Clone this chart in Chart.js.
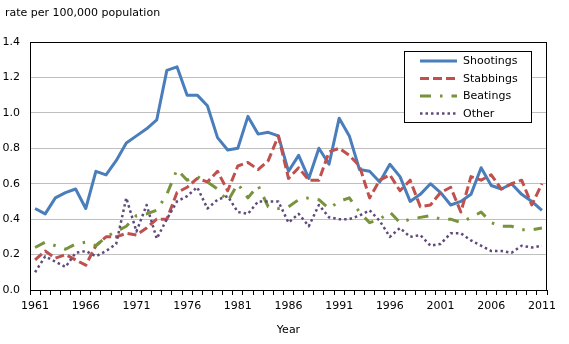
<!DOCTYPE html>
<html><head><meta charset="utf-8">
<script src="https://cdn.jsdelivr.net/npm/chart.js@4/dist/chart.umd.min.js"></script>
<style>html,body{margin:0;padding:0;background:#fff}#wrap{width:569px;height:344px;position:relative}</style>
</head><body><div id="wrap"><canvas id="c" width="569" height="344"></canvas></div>
<script>
const years = [1961,1962,1963,1964,1965,1966,1967,1968,1969,1970,
  1971,1972,1973,1974,1975,1976,1977,1978,1979,1980,
  1981,1982,1983,1984,1985,1986,1987,1988,1989,1990,
  1991,1992,1993,1994,1995,1996,1997,1998,1999,2000,
  2001,2002,2003,2004,2005,2006,2007,2008,2009,2010,2011];
const shootings = [0.46,0.43,0.52,0.55,0.57,0.46,0.67,0.65,0.73,0.83,
  0.87,0.91,0.96,1.24,1.26,1.10,1.10,1.04,0.86,0.79,
  0.80,0.98,0.88,0.89,0.87,0.67,0.76,0.63,0.80,0.71,
  0.97,0.87,0.68,0.67,0.61,0.71,0.64,0.50,0.54,0.60,
  0.55,0.48,0.50,0.54,0.69,0.59,0.57,0.60,0.54,0.50,0.45];
const stabbings = [0.17,0.22,0.18,0.20,0.17,0.14,0.25,0.30,0.30,0.32,
  0.31,0.35,0.40,0.40,0.55,0.58,0.63,0.61,0.67,0.56,
  0.70,0.72,0.68,0.73,0.87,0.63,0.69,0.62,0.62,0.78,
  0.80,0.76,0.70,0.52,0.62,0.65,0.56,0.62,0.47,0.48,
  0.55,0.58,0.44,0.64,0.62,0.65,0.57,0.60,0.62,0.48,0.60];
const beatings = [0.24,0.27,0.25,0.23,0.26,0.27,0.25,0.30,0.33,0.36,
  0.42,0.43,0.45,0.54,0.68,0.62,0.64,0.61,0.57,0.50,
  0.60,0.52,0.59,0.47,0.46,0.47,0.51,0.52,0.51,0.46,
  0.50,0.52,0.44,0.38,0.40,0.44,0.38,0.40,0.41,0.42,
  0.40,0.40,0.38,0.41,0.44,0.38,0.36,0.36,0.34,0.34,0.35];
const other = [0.10,0.19,0.16,0.13,0.21,0.22,0.19,0.22,0.26,0.52,
  0.33,0.48,0.29,0.40,0.50,0.53,0.58,0.46,0.51,0.53,
  0.44,0.43,0.50,0.50,0.50,0.38,0.43,0.36,0.48,0.41,
  0.40,0.40,0.42,0.45,0.39,0.30,0.35,0.30,0.31,0.25,
  0.26,0.32,0.32,0.28,0.25,0.22,0.22,0.21,0.25,0.24,0.25];
const seriesNames = ['Shootings','Stabbings','Beatings','Other'];
const yTitle = 'rate per 100,000 population';
const xTitle = 'Year';

const FONT = '"DejaVu Sans", Verdana, sans-serif';
const styles = [
  {color:'#4A7EBB', width:3, dash:[]},
  {color:'#C0504D', width:3, dash:[9,4]},
  {color:'#77933C', width:3, dash:[11,9,2.5,9]},
  {color:'#604A7B', width:2.5, dash:[2.5,3]}
];
const values = [shootings, stabbings, beatings, other];

const extras = {
  id:'extras',
  afterDraw(chart){
    const ctx = chart.ctx, a = chart.chartArea;
    ctx.save();
    ctx.strokeStyle = '#000'; ctx.lineWidth = 1; ctx.setLineDash([]);
    ctx.strokeRect(Math.round(a.left)+0.5, Math.round(a.top)+0.5, Math.round(a.right-a.left)-1, Math.round(a.bottom-a.top));
    ctx.fillStyle = '#000'; ctx.font = '11px ' + FONT;
    ctx.textBaseline = 'middle'; ctx.textAlign = 'left';
    ctx.fillText(yTitle, 5, 13);
    const bx = 404.5, by = 51.5, bw = 127, bh = 71;
    ctx.fillStyle = '#fff'; ctx.fillRect(bx, by, bw, bh);
    ctx.strokeStyle = '#000'; ctx.strokeRect(bx, by, bw, bh);
    const rows = [61, 78.5, 96, 113.5];
    seriesNames.forEach((n, i) => {
      const s = styles[i];
      ctx.beginPath();
      ctx.strokeStyle = s.color; ctx.lineWidth = s.width; ctx.setLineDash(s.dash); ctx.lineCap = 'butt';
      ctx.moveTo(420, rows[i]); ctx.lineTo(457, rows[i]); ctx.stroke();
      ctx.setLineDash([]);
      ctx.fillStyle = '#000';
      ctx.fillText(n, 463, rows[i] + 0.5);
    });
    ctx.restore();
  }
};

new Chart(document.getElementById('c'), {
  type:'line',
  data:{
    labels: years,
    datasets: seriesNames.map((n, i) => ({
      label: n, data: values[i],
      borderColor: styles[i].color, borderWidth: styles[i].width, borderDash: styles[i].dash,
      borderCapStyle:'butt', borderJoinStyle:'round',
      pointRadius:0, tension:0, fill:false, order: 4 - i
    }))
  },
  options:{
    responsive:false, animation:false, devicePixelRatio:1,
    layout:{padding:{left:0, top:42, right:22, bottom:0}},
    plugins:{legend:{display:false}, tooltip:{enabled:false}},
    scales:{
      x:{
        offset:true,
        grid:{offset:true, drawOnChartArea:false, drawTicks:true, tickLength:5, color:'#000'},
        border:{color:'#000'},
        ticks:{autoSkip:false, maxRotation:0, minRotation:0, padding:5, color:'#000',
          font:{family:FONT, size:11},
          callback(v, i){ return i % 5 === 0 ? String(years[i]) : ''; }},
        title:{display:true, text:xTitle, color:'#000', font:{family:FONT, size:11}, padding:{top:0, bottom:7}},
        afterFit(s){ s.height = 54; }
      },
      y:{
        min:0, max:1.4,
        grid:{color:'#BFBFBF', drawTicks:false},
        border:{color:'#000'},
        ticks:{stepSize:0.2, padding:10, color:'#000', font:{family:FONT, size:11},
          callback(v){ return Number(v).toFixed(1); }},
        afterFit(s){ s.width = 30; }
      }
    }
  },
  plugins:[extras]
});
</script></body></html>
